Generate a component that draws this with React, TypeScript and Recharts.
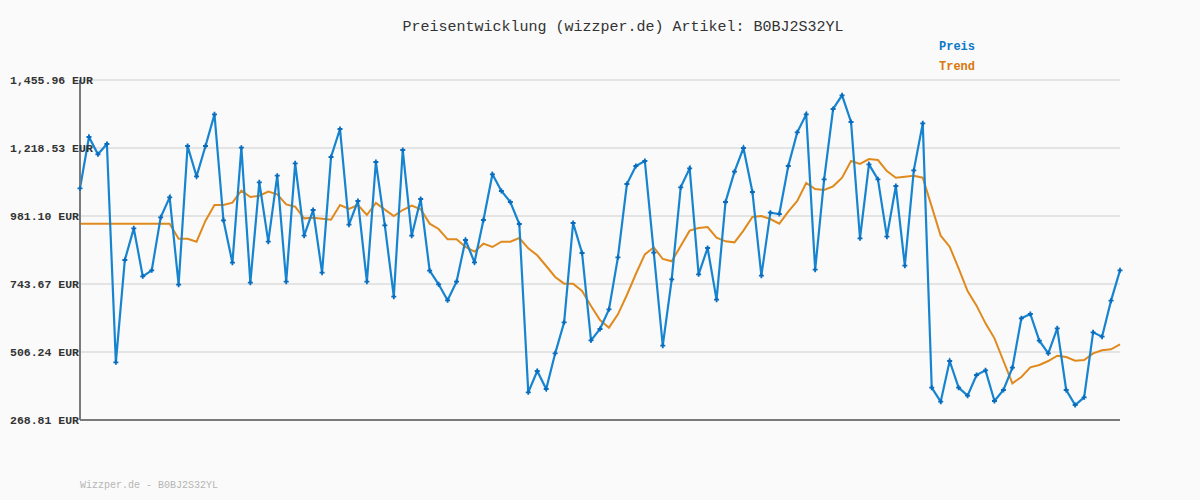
import React from "react";
import {
  LineChart,
  Line,
  XAxis,
  YAxis,
  CartesianGrid,
} from "recharts";

const title = "Preisentwicklung (wizzper.de) Artikel: B0BJ2S32YL";
const footer = "Wizzper.de - B0BJ2S32YL";

// y-axis ticks (EUR)
const yTicks = [268.81, 506.24, 743.67, 981.1, 1218.53, 1455.96];

// legend entries
const seriesNames = ["Preis", "Trend"];
const seriesColors = ["#0a78c8", "#d9770b"];

// price per sample
const preis = [
  1077.7, 1256.9, 1196.4, 1232.5, 470.1, 827.5, 938.0, 770.4, 791.4, 976.4,
  1046.3, 741.3, 1225.5, 1119.6, 1225.5, 1336.1, 966.0, 818.1, 1219.7, 748.3,
  1098.6, 891.5, 1121.9, 751.8, 1165.0, 912.4, 1002.0, 783.2, 1187.1, 1284.9,
  950.8, 1033.5, 751.8, 1169.6, 948.5, 699.4, 1211.5, 912.4, 1040.4, 790.2,
  742.5, 686.6, 751.8, 897.3, 819.3, 967.1, 1126.6, 1068.4, 1030.0, 953.2,
  365.4, 439.9, 377.0, 501.6, 609.8, 956.6, 851.9, 547.0, 586.5, 655.2,
  836.8, 1092.8, 1155.7, 1173.1, 853.1, 528.3, 760.0, 1081.2, 1147.5, 777.4,
  869.4, 689.0, 1030.0, 1135.9, 1218.5, 1064.9, 772.8, 992.7, 988.0, 1155.7,
  1273.2, 1336.1, 793.7, 1109.1, 1354.7, 1402.4, 1309.3, 903.1, 1161.5, 1109.1,
  908.9, 1085.8, 807.7, 1140.5, 1304.6, 381.7, 332.8, 474.8, 381.7, 353.8,
  425.9, 442.2, 335.1, 373.5, 451.5, 623.8, 638.9, 545.8, 501.6, 588.9,
  373.5, 321.2, 347.9, 574.9, 559.8, 685.5, 791.4,
];

// trend (moving average)
const trend = [
  954.3, 954.3, 954.3, 954.3, 954.3, 954.3, 954.3, 954.3, 954.3, 954.3,
  954.3, 901.9, 901.9, 891.5, 964.8, 1019.5, 1019.5, 1027.6, 1069.5, 1047.4,
  1052.1, 1066.1, 1056.7, 1021.8, 1013.7, 972.9, 975.3, 971.8, 968.3, 1019.5,
  1005.5, 1019.5, 984.6, 1026.5, 1003.2, 981.1, 1002.0, 1017.2, 1004.4, 954.4,
  935.7, 899.6, 899.6, 872.9, 856.6, 884.5, 872.9, 891.5, 891.5, 904.3,
  868.2, 843.8, 806.5, 768.1, 744.8, 744.8, 719.2, 666.8, 618.0, 591.2,
  637.8, 705.3, 778.6, 847.2, 871.7, 831.0, 822.8, 876.3, 929.9, 939.2,
  942.7, 905.4, 892.6, 889.1, 929.9, 977.6, 981.1, 970.6, 954.3, 996.2,
  1033.5, 1096.3, 1075.4, 1071.9, 1084.7, 1114.9, 1173.1, 1162.7, 1180.1, 1176.6,
  1138.2, 1114.9, 1118.4, 1121.9, 1114.9, 1013.7, 912.4, 874.0, 798.4, 719.2,
  668.0, 606.3, 553.9, 474.8, 396.8, 418.9, 452.7, 460.8, 474.8, 493.4,
  488.8, 476.0, 478.3, 501.6, 512.0, 515.5, 533.0,
];

const data = preis.map((p, i) => ({ i, Preis: p, Trend: trend[i] }));

const MONO = "'Liberation Mono', 'DejaVu Sans Mono', monospace";

const fmt = (v: number) =>
  v.toLocaleString("en-US", { minimumFractionDigits: 2, maximumFractionDigits: 2 }) + " EUR";

// labels are left-aligned at the chart's left edge
const YTick = (props: any) => {
  const { x, y, payload } = props;
  return (
    <text
      x={x - 70}
      y={y}
      textAnchor="start"
      dominantBaseline="central"
      fontFamily={MONO}
      fontSize={11.5}
      fontWeight="bold"
      fill="#333"
    >
      {fmt(payload.value)}
    </text>
  );
};

const PlusDot = (props: any) => {
  const { cx, cy } = props;
  if (cx == null || cy == null) return null;
  return (
    <path
      d={`M${cx - 2.5},${cy}h5M${cx},${cy - 2.5}v5`}
      stroke="#0a6cbc"
      strokeWidth={1.8}
      fill="none"
    />
  );
};

export default function App() {
  return (
    <div
      style={{
        position: "absolute",
        left: 0,
        top: 0,
        width: 1200,
        height: 500,
        background: "#fafafa",
      }}
    >
      <div
        style={{
          position: "absolute",
          top: 19,
          left: 0,
          width: 1246,
          textAlign: "center",
          fontFamily: MONO,
          fontSize: 15,
          color: "#333",
        }}
      >
        {title}
      </div>
      <div
        style={{
          position: "absolute",
          left: 939,
          top: 37,
          fontFamily: MONO,
          fontSize: 12,
          fontWeight: "bold",
          lineHeight: "20px",
        }}
      >
        {seriesNames.map((n, k) => (
          <div key={n} style={{ color: seriesColors[k] }}>
            {n}
          </div>
        ))}
      </div>
      <LineChart
        width={1200}
        height={500}
        data={data}
        margin={{ top: 80, right: 80, bottom: 79, left: 20 }}
      >
        <CartesianGrid
          horizontal
          vertical={false}
          stroke="#e4e4e4"
          strokeWidth={2}
        />
        <XAxis
          dataKey="i"
          type="number"
          domain={[0, preis.length - 1]}
          tick={false}
          tickLine={false}
          axisLine={{ stroke: "#7a7a7a", strokeWidth: 2 }}
          height={1}
        />
        <YAxis
          width={60}
          domain={[yTicks[0], yTicks[yTicks.length - 1]]}
          ticks={yTicks}
          tick={<YTick />}
          tickLine={false}
          tickSize={0}
          tickMargin={0}
          axisLine={{ stroke: "#7a7a7a", strokeWidth: 2 }}
          allowDataOverflow
        />
        <Line
          dataKey="Trend"
          stroke="#e08a1e"
          strokeWidth={2}
          dot={false}
          isAnimationActive={false}
          type="linear"
        />
        <Line
          dataKey="Preis"
          stroke="#1784d0"
          strokeWidth={2.2}
          dot={<PlusDot />}
          activeDot={false}
          isAnimationActive={false}
          type="linear"
        />
      </LineChart>
      <div
        style={{
          position: "absolute",
          top: 480,
          left: 80,
          fontFamily: MONO,
          fontSize: 10,
          color: "#b5b5b5",
        }}
      >
        {footer}
      </div>
    </div>
  );
}
